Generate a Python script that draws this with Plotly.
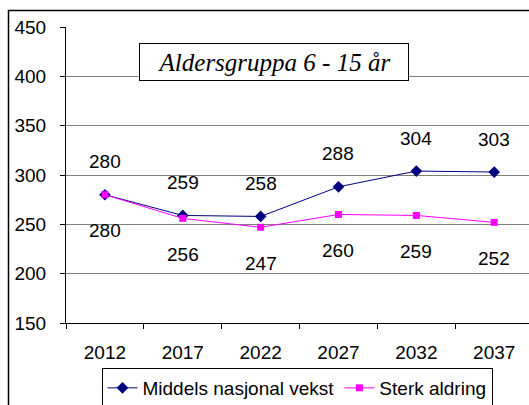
import plotly.graph_objects as go

years = ["2012", "2017", "2022", "2027", "2032", "2037"]
middels = [280, 259, 258, 288, 304, 303]
sterk = [280, 256, 247, 260, 259, 252]
name_middels = "Middels nasjonal vekst"
name_sterk = "Sterk aldring"
title_text = "Aldersgruppa 6 - 15 år"

W, H = 529, 405
L, T, B = 66, 27, 82
pw = W - L
ph = H - T - B

def px_x(x):
    return (x - L) / pw

def px_y(y):
    return (H - B - y) / ph

FONT = "Liberation Sans, Arial"

fig = go.Figure()
fig.add_trace(go.Scatter(
    x=years, y=middels, name=name_middels, mode="lines+markers",
    line=dict(color="#000080", width=1),
    marker=dict(symbol="diamond", size=9, color="#000080"),
))
fig.add_trace(go.Scatter(
    x=years, y=sterk, name=name_sterk, mode="lines+markers",
    line=dict(color="#FF00FF", width=1),
    marker=dict(symbol="square", size=7, color="#FF00FF"),
))

lab_font = dict(family=FONT, size=19, color="black")
for i, v in enumerate(middels):
    fig.add_annotation(x=i, y=v, text=str(v), showarrow=False, yshift=33, font=lab_font)
for i, v in enumerate(sterk):
    fig.add_annotation(x=i, y=v, text=str(v), showarrow=False, yshift=-36, font=lab_font)

fig.add_annotation(
    xref="paper", yref="paper", x=px_x(274), y=px_y(62),
    xanchor="center", yanchor="middle",
    text="<i>" + title_text + "</i>", showarrow=False,
    font=dict(family="Liberation Serif, Times New Roman", size=25, color="black"),
    bgcolor="white", bordercolor="black", borderwidth=1,
    width=266, height=34,
)

# outer chart border
fig.add_shape(type="rect", xref="paper", yref="paper",
              x0=px_x(8.5), x1=px_x(540), y0=px_y(10.5), y1=px_y(420),
              line=dict(color="black", width=1.5), layer="below")

fig.update_layout(
    width=W, height=H,
    margin=dict(l=L, r=0, t=T, b=B, autoexpand=False),
    paper_bgcolor="white", plot_bgcolor="white",
    font=dict(family=FONT, size=19, color="black"),
    showlegend=True,
    legend=dict(
        orientation="h", xanchor="center", yanchor="top",
        xref="container", yref="container",
        x=297 / W, y=1 - 368 / H,
        bordercolor="black", borderwidth=1, bgcolor="white",
        font=dict(size=19), itemwidth=30,
    ),
    xaxis=dict(
        type="category", tickson="boundaries",
        range=[-0.5, 5.447],
        showline=True, linecolor="black", linewidth=1,
        ticks="outside", ticklen=5, tickcolor="black",
        showgrid=False, zeroline=False,
        tickfont=dict(size=19), ticklabelstandoff=12,
    ),
    yaxis=dict(
        range=[150, 450], dtick=50, tick0=150,
        showline=True, linecolor="black", linewidth=1,
        ticks="outside", ticklen=5, tickcolor="black",
        showgrid=True, gridcolor="#808080", gridwidth=1,
        zeroline=False, tickfont=dict(size=19), ticklabelstandoff=10,
    ),
)

fig.write_html(
    "out.html",
    config={"displayModeBar": False},
    post_script="document.body.style.margin='0';document.body.style.padding='0';",
)
